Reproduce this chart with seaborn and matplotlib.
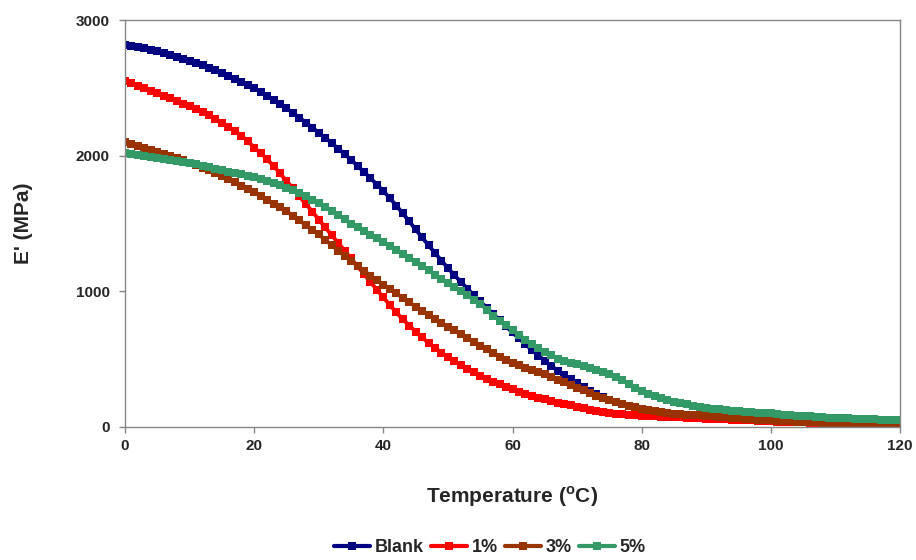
import numpy as np
import pandas as pd
import matplotlib
matplotlib.use("Agg")
import matplotlib.pyplot as plt
import seaborn as sns

# Storage modulus vs temperature, one reading per degree from 0 to 120 °C
temperature = list(range(0, 121))

blank = [2820, 2812, 2803, 2793, 2782, 2770, 2758, 2745, 2731, 2716,
         2700, 2684, 2667, 2649, 2630, 2610, 2590, 2569, 2547, 2524,
         2500, 2472, 2443, 2413, 2382, 2350, 2316, 2281, 2245, 2208,
         2170, 2132, 2093, 2053, 2012, 1970, 1926, 1881, 1835, 1788,
         1740, 1688, 1633, 1576, 1517, 1457, 1398, 1340, 1283, 1227,
         1172, 1120, 1070, 1021, 973, 926, 880, 834, 788, 742,
         697, 653, 610, 568, 527, 488, 451, 416, 383, 351,
         321, 293, 267, 243, 221, 201, 184, 169, 155, 142,
         131, 122, 113, 105, 97, 91, 86, 82, 78, 74,
         70, 68, 66, 64, 62, 60, 58, 56, 54, 52,
         50, 49, 48, 47, 46, 45, 44, 43, 42, 41,
         40, 39, 38, 37, 36, 35, 34, 33, 32, 31,
         30]

pct1 = [2550, 2533, 2516, 2498, 2480, 2462, 2443, 2424, 2405, 2385,
        2365, 2344, 2322, 2298, 2272, 2245, 2215, 2183, 2148, 2110,
        2060, 2020, 1975, 1925, 1870, 1815, 1760, 1700, 1645, 1588,
        1530, 1472, 1415, 1358, 1300, 1243, 1185, 1128, 1070, 1012,
        955, 900, 845, 795, 748, 703, 660, 620, 583, 548,
        515, 484, 455, 428, 402, 378, 355, 334, 314, 296,
        278, 261, 245, 230, 216, 203, 191, 180, 169, 159,
        149, 139, 129, 119, 111, 104, 98, 94, 90, 87,
        84, 81, 79, 77, 75, 73, 71, 69, 67, 64,
        62, 60, 58, 56, 54, 52, 50, 48, 46, 44,
        42, 40, 39, 37, 36, 34, 33, 31, 30, 29,
        28, 27, 26, 25, 24, 23, 22, 22, 21, 21,
        20]

pct3 = [2100, 2088, 2075, 2061, 2046, 2030, 2015, 1999, 1983, 1967,
        1950, 1931, 1912, 1892, 1871, 1850, 1827, 1804, 1780, 1755,
        1730, 1703, 1675, 1647, 1619, 1590, 1557, 1523, 1489, 1455,
        1420, 1380, 1340, 1300, 1262, 1225, 1188, 1152, 1117, 1083,
        1050, 1018, 985, 952, 920, 888, 856, 826, 796, 768,
        740, 712, 684, 656, 628, 600, 572, 545, 518, 494,
        474, 456, 438, 422, 405, 388, 370, 350, 330, 310,
        290, 270, 250, 230, 212, 197, 182, 168, 156, 145,
        135, 127, 119, 111, 104, 99, 95, 91, 88, 85,
        82, 78, 75, 71, 68, 64, 61, 57, 54, 51,
        48, 46, 44, 42, 40, 38, 36, 34, 32, 30,
        29, 28, 27, 26, 25, 24, 23, 22, 21, 21,
        20]

pct5 = [2020, 2013, 2006, 1999, 1992, 1985, 1977, 1969, 1961, 1953,
        1945, 1936, 1926, 1916, 1906, 1895, 1884, 1873, 1862, 1851,
        1840, 1826, 1811, 1796, 1781, 1765, 1746, 1724, 1700, 1675,
        1650, 1622, 1593, 1563, 1532, 1500, 1473, 1446, 1419, 1392,
        1365, 1336, 1307, 1278, 1249, 1220, 1188, 1156, 1124, 1092,
        1060, 1030, 1000, 970, 940, 910, 865, 820, 785, 750,
        715, 680, 645, 610, 580, 550, 528, 505, 490, 475,
        462, 450, 436, 420, 405, 390, 368, 345, 318, 290,
        265, 245, 228, 212, 198, 188, 178, 168, 158, 150,
        142, 136, 130, 125, 120, 115, 111, 108, 105, 102,
        100, 96, 92, 88, 84, 80, 78, 75, 73, 70,
        68, 66, 64, 62, 60, 58, 57, 55, 54, 53,
        52]

series_names = ["Blank", "1%", "3%", "5%"]
series_values = [blank, pct1, pct3, pct5]
colors = ["#000080", "#FF0000", "#993300", "#339966"]

x_ticks = [0, 20, 40, 60, 80, 100, 120]
y_ticks = [0, 1000, 2000, 3000]

df = pd.concat(
    [pd.DataFrame({"Temperature": temperature, "E": vals, "Sample": name})
     for name, vals in zip(series_names, series_values)],
    ignore_index=True,
)

sns.set_theme(style="white")
plt.rcParams["font.family"] = ["Liberation Sans", "DejaVu Sans"]
plt.rcParams["mathtext.fontset"] = "custom"
plt.rcParams["mathtext.rm"] = "Liberation Sans"
plt.rcParams["mathtext.bf"] = "Liberation Sans:bold"

fig = plt.figure(figsize=(9.16, 5.60), dpi=100)
ax = fig.add_axes([0.1365, 0.2375, 0.8460, 0.7265])

sns.lineplot(
    data=df, x="Temperature", y="E", hue="Sample",
    palette=dict(zip(series_names, colors)), hue_order=series_names,
    marker="s", markersize=5.6, markeredgewidth=0, linewidth=2.8,
    dashes=False, ax=ax, legend=False,
)

ax.set_xlim(0, 120)
ax.set_ylim(0, 3000)
ax.set_xticks(x_ticks)
ax.set_yticks(y_ticks)
ax.set_xticklabels([str(t) for t in x_ticks], fontsize=11, fontweight="bold")
ax.set_yticklabels([str(t) for t in y_ticks], fontsize=11, fontweight="bold")
ax.tick_params(axis="both", direction="out", length=4, width=1,
               color="#868686", pad=5)
ax.tick_params(axis="y", pad=7)
ax.tick_params(bottom=True, left=True)
for side in ["left", "bottom", "right", "top"]:
    ax.spines[side].set_visible(True)
    ax.spines[side].set_color("#868686")
    ax.spines[side].set_linewidth(1)

ax.set_xlabel(r"Temperature ($^{\mathbf{o}}$C)", fontsize=15, fontweight="bold",
              labelpad=22)
ax.set_ylabel("E' (MPa)", fontsize=15, fontweight="bold", labelpad=31)

handles = [plt.Line2D([], [], color=c, marker="s", markersize=5.6,
                      markeredgewidth=0, linewidth=3) for c in colors]
fig.legend(handles, series_names, loc="center", bbox_to_anchor=(0.535, 0.022),
           ncol=4, frameon=False, handlelength=2.0, handletextpad=0.25,
           columnspacing=0.4, prop={"weight": "bold", "size": 13})

fig.savefig("out.png", dpi=100)
